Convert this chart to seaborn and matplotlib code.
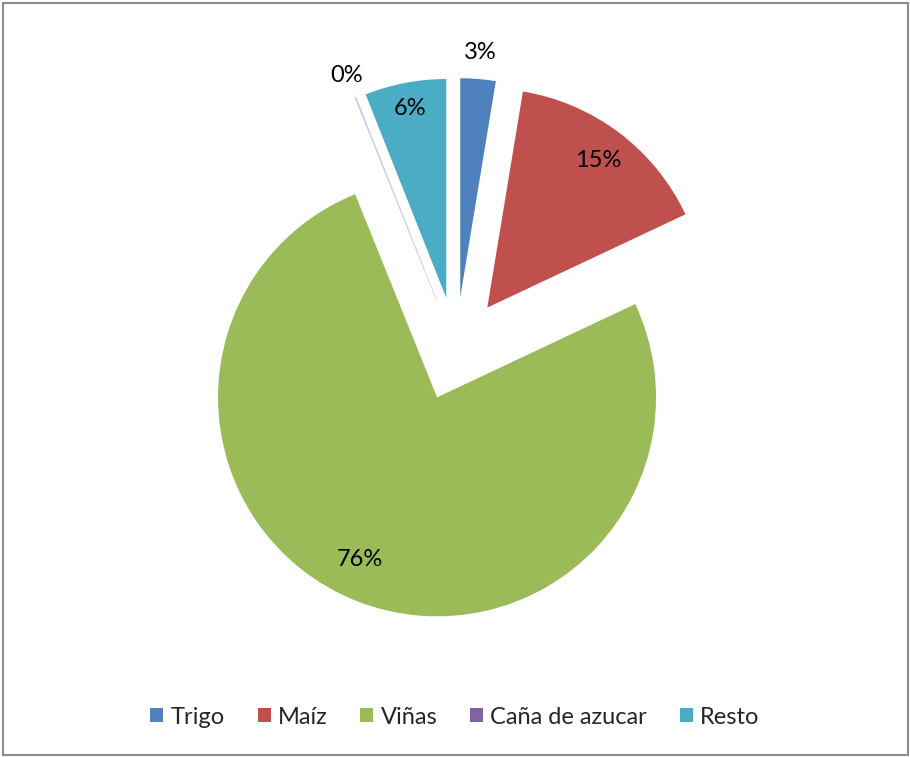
import numpy as np
import matplotlib
matplotlib.use('Agg')
import matplotlib.pyplot as plt
import seaborn as sns
from matplotlib.patches import Rectangle

sns.set_theme(style='white')
plt.rcParams['font.family'] = ['Lato', 'DejaVu Sans']

# Data (share of cultivated area, %)
cultivos = ['Trigo', 'Maíz', 'Viñas', 'Caña de azucar', 'Resto']
valores = [2.6, 15.4, 75.9, 0.1, 6.0]
etiquetas = ['3%', '15%', '76%', '0%', '6%']
colores = ['#4F81BD', '#C0504D', '#9BBB59', '#8064A2', '#4BACC6']

# label placement relative to the exploded slice centre (radii, degrees)
dist_etiqueta = [1.12, 0.84, 0.82, 1.11, 0.88]
giro_etiqueta = [0, 0, -4, 0, 0]
explode = 0.237

fig = plt.figure(figsize=(9.1, 7.57), dpi=100)
ax = fig.add_axes([100 / 910, 108 / 757, 712 / 910, 600 / 757])

wedges, _ = ax.pie(valores, colors=colores, startangle=90, counterclock=False,
                   explode=[explode] * len(valores), radius=1,
                   wedgeprops=dict(linewidth=0))

# thin sliver for the near-zero slice
wedges[3].set_facecolor('#CFCAE6')
wedges[3].set_edgecolor('#CFCAE6')
wedges[3].set_linewidth(0.4)

for w, txt, d, g in zip(wedges, etiquetas, dist_etiqueta, giro_etiqueta):
    ang = np.deg2rad((w.theta1 + w.theta2) / 2 + g)
    cx, cy = w.center
    ax.text(cx + d * np.cos(ang), cy + d * np.sin(ang), txt,
            ha='center', va='center', fontsize=17, color='black')

ax.set_xlim(-712 / 438, 712 / 438)
ax.set_ylim(-600 / 438, 600 / 438)
ax.set_aspect('equal')
ax.axis('off')

handles = [Rectangle((0, 0), 1, 1, facecolor=c, edgecolor='none') for c in colores]
fig.legend(handles, cultivos, loc='center', bbox_to_anchor=(0.5, 1 - 717 / 757),
           ncol=5, frameon=False, fontsize=17, handlelength=0.55, handleheight=0.55,
           handletextpad=0.3, columnspacing=1.4)

# chart border
fig.patches.append(Rectangle((3 / 910, 2 / 757), 905 / 910, 752 / 757,
                             transform=fig.transFigure, fill=False,
                             edgecolor='#8C8C8C', linewidth=1.5))

fig.savefig('out.png', dpi=100)
